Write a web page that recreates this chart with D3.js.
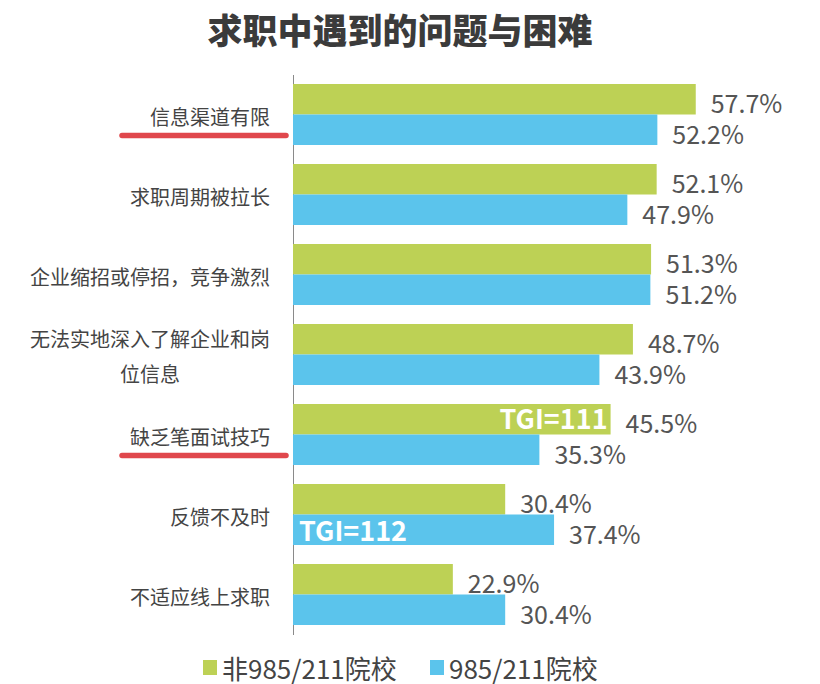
<!DOCTYPE html>
<html>
<head>
<meta charset="utf-8">
<script src="https://cdn.jsdelivr.net/npm/d3@7"></script>
<style>
    body { margin: 0; background: #fff; }
    text { font-family: "Noto Sans CJK SC", "Noto Sans", sans-serif; }
</style>
</head>
<body>
<div id="chart"></div>
<script>

// chart data
let categories = [
    ["信息渠道有限"],
    ["求职周期被拉长"],
    ["企业缩招或停招，竞争激烈"],
    ["无法实地深入了解企业和岗", "位信息"],
    ["缺乏笔面试技巧"],
    ["反馈不及时"],
    ["不适应线上求职"]
];
let seriesNames = ["非985/211院校", "985/211院校"];
let non985 = [57.7, 52.1, 51.3, 48.7, 45.5, 30.4, 22.9];
let is985 = [52.2, 47.9, 51.2, 43.9, 35.3, 37.4, 30.4];
let underlined = ["信息渠道有限", "缺乏笔面试技巧"];
let tgiNotes = [
    {cat: "缺乏笔面试技巧", series: 0, text: "TGI=111"},
    {cat: "反馈不及时", series: 1, text: "TGI=112"}
];

let colors = ["#bdd155", "#5bc4ec"];
let width = 820, height = 684;

let svg = d3.select("#chart").append("svg")
    .attr("width", width)
    .attr("height", height);

// title
svg.append("text")
    .attr("x", 400)
    .attr("y", 28)
    .attr("text-anchor", "middle")
    .attr("dominant-baseline", "central")
    .attr("font-size", 35)
    .attr("font-weight", 900)
    .attr("fill", "#3b3b3b")
    .text("求职中遇到的问题与困难");

let keys = categories.map(d => d[0]);

let rows = keys.map((k, i) => ({key: k, lines: categories[i], values: [non985[i], is985[i]]}));

// scales
let x = d3.scaleLinear()
    .domain([0, 100])
    .range([293, 991]);

let y = d3.scaleBand()
    .domain(keys)
    .range([74.5, 634.5])
    .paddingInner(0.2375)
    .paddingOuter(0.11875);

let ySub = d3.scaleBand()
    .domain([0, 1])
    .range([0, y.bandwidth()]);

// axis line only
let yAxisGroup = svg.append("g")
    .attr("transform", "translate(293,0)")
    .call(d3.axisLeft(y).tickSize(0).tickFormat(""));
yAxisGroup.select(".domain").attr("stroke", "#8a8a8a");
yAxisGroup.selectAll(".tick").remove();

// bars
let groups = svg.selectAll(".group")
    .data(rows)
    .enter()
    .append("g")
    .attr("class", "group")
    .attr("transform", d => `translate(0, ${y(d.key)})`);

groups.selectAll("rect")
    .data(d => d.values.map((v, i) => ({v: v, s: i})))
    .enter()
    .append("rect")
    .attr("x", x(0))
    .attr("y", d => ySub(d.s))
    .attr("width", d => x(d.v) - x(0))
    .attr("height", ySub.bandwidth())
    .attr("fill", d => colors[d.s]);

// value labels
groups.selectAll(".val")
    .data(d => d.values.map((v, i) => ({v: v, s: i})))
    .enter()
    .append("text")
    .attr("class", "val")
    .attr("x", d => x(d.v) + 15)
    .attr("y", d => ySub(d.s) + ySub.bandwidth() / 2 + 3)
    .attr("dominant-baseline", "central")
    .attr("font-size", 25)
    .attr("fill", "#555")
    .text(d => d.v.toFixed(1) + "%");

// category labels
let labelRight = 270;
let labels = svg.selectAll(".cat")
    .data(rows)
    .enter()
    .append("text")
    .attr("class", "cat")
    .attr("font-size", 20)
    .attr("fill", "#444")
    .attr("text-anchor", "end")
    .attr("dominant-baseline", "central");

labels.each(function (d) {
    let t = d3.select(this);
    let cy = y(d.key) + y.bandwidth() / 2 + 1;
    let lh = 35;
    let n = d.lines.length;
    d.lines.forEach((line, i) => {
        t.append("tspan")
            .attr("x", labelRight)
            .attr("y", cy + (i - (n - 1) / 2) * lh)
            .text(line);
    });
    if (n > 1) {
        // center the lines as a block
        let maxW = 0;
        t.selectAll("tspan").each(function () {
            maxW = Math.max(maxW, this.getComputedTextLength());
        });
        t.attr("text-anchor", "middle");
        t.selectAll("tspan").attr("x", labelRight - maxW / 2);
    }
});

// red underlines
svg.selectAll(".underline")
    .data(underlined)
    .enter()
    .append("line")
    .attr("x1", 122)
    .attr("x2", 286)
    .attr("y1", d => y(d) + y.bandwidth() / 2 + 21)
    .attr("y2", d => y(d) + y.bandwidth() / 2 + 21)
    .attr("stroke", "#e0474c")
    .attr("stroke-width", 5.5)
    .attr("stroke-linecap", "round");

// TGI notes
svg.selectAll(".tgi")
    .data(tgiNotes)
    .enter()
    .append("text")
    .attr("class", "tgi")
    .attr("x", d => {
        let v = d.series === 0 ? non985[keys.indexOf(d.cat)] : is985[keys.indexOf(d.cat)];
        return d.series === 0 ? x(v) - 3 : x(0) + 6;
    })
    .attr("y", d => y(d.cat) + ySub(d.series) + ySub.bandwidth() / 2 + (d.series === 0 ? -2 : 0))
    .attr("text-anchor", d => d.series === 0 ? "end" : "start")
    .attr("dominant-baseline", "central")
    .attr("font-size", 27)
    .attr("font-weight", 700)
    .attr("fill", "#fff")
    .text(d => d.text);

// legend
let legendX = [203, 430];
let legend = svg.selectAll(".legend")
    .data(seriesNames)
    .enter()
    .append("g")
    .attr("class", "legend")
    .attr("transform", (d, i) => `translate(${legendX[i]}, 667)`);

legend.append("rect")
    .attr("x", 0)
    .attr("y", -7)
    .attr("width", 14)
    .attr("height", 15)
    .attr("fill", (d, i) => colors[i]);

legend.append("text")
    .attr("x", 19)
    .attr("y", 0)
    .attr("dominant-baseline", "central")
    .attr("font-size", 26)
    .attr("fill", "#444")
    .text(d => d);

</script>
</body>
</html>
